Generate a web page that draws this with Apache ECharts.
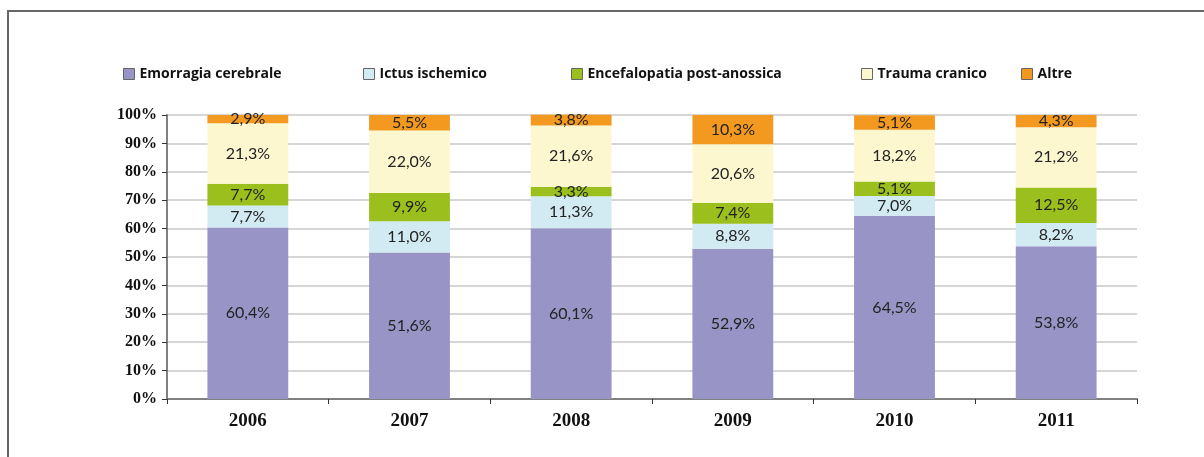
<!DOCTYPE html>
<html>
<head>
<meta charset="utf-8">
<script src="https://cdn.jsdelivr.net/npm/echarts@6/dist/echarts.min.js"></script>
<style>
html,body{margin:0;padding:0;background:#fff;}
#chart{width:1204px;height:457px;}
</style>
</head>
<body>
<div id="chart"></div>
<script>
var years = ['2006', '2007', '2008', '2009', '2010', '2011'];
var emorragia = [60.4, 51.6, 60.1, 52.9, 64.5, 53.8];
var ictus = [7.7, 11.0, 11.3, 8.8, 7.0, 8.2];
var encefalopatia = [7.7, 9.9, 3.3, 7.4, 5.1, 12.5];
var trauma = [21.3, 22.0, 21.6, 20.6, 18.2, 21.2];
var altre = [2.9, 5.5, 3.8, 10.3, 5.1, 4.3];
var yTicks = [0, 10, 20, 30, 40, 50, 60, 70, 80, 90, 100];

var names = ['Emorragia cerebrale', 'Ictus ischemico', 'Encefalopatia post-anossica', 'Trauma cranico', 'Altre'];
var colors = ['#9894c5', '#d2eaf2', '#9bbf1d', '#fdf7d0', '#f4991f'];
var values = [emorragia, ictus, encefalopatia, trauma, altre];
var legendLeft = [118, 358, 566, 856, 1016];

var myChart = echarts.init(document.getElementById('chart'));

var series = names.map(function (n, i) {
    return {
        name: n,
        type: 'bar',
        stack: 'tot',
        barWidth: '50%',
        clip: false,
        itemStyle: { color: colors[i] },
        label: {
            show: true,
            position: 'inside',
            color: '#222',
            fontFamily: 'Lato',
            fontSize: 16,
            formatter: function (p) {
                return p.value.toFixed(1).replace('.', ',') + '%';
            }
        },
        data: values[i]
    };
});

var legends = names.map(function (n, i) {
    return {
        data: [{ name: n, icon: 'rect' }],
        left: legendLeft[i],
        top: 62,
        itemWidth: 11,
        itemHeight: 11,
        itemGap: 8,
        itemStyle: { borderColor: '#666', borderWidth: 1 },
        textStyle: { fontFamily: 'Open Sans', fontWeight: 'bold', fontSize: 14, color: '#111' },
        selectedMode: false
    };
});

var option = {
    animation: false,
    backgroundColor: '#fff',
    graphic: [{
        type: 'polyline',
        shape: { points: [[8, 457], [8, 11], [1204, 11]] },
        style: { stroke: '#666', lineWidth: 2, fill: null }
    }],
    legend: legends,
    grid: { left: 167, right: 67, top: 115, bottom: 58 },
    xAxis: {
        type: 'category',
        data: years,
        axisLine: { lineStyle: { color: '#808080', width: 2 } },
        axisTick: { show: true, length: 5, lineStyle: { color: '#333' } },
        axisLabel: {
            margin: 13,
            fontFamily: 'Liberation Serif',
            fontWeight: 'bold',
            fontSize: 19,
            color: '#111'
        }
    },
    yAxis: {
        type: 'value',
        min: 0,
        max: 100,
        interval: 10,
        axisLine: { show: true, lineStyle: { color: '#808080', width: 2 } },
        axisTick: { show: true, length: 5, lineStyle: { color: '#333' } },
        splitLine: { lineStyle: { color: '#c8c8c8', width: 1.5 } },
        axisLabel: {
            margin: 10,
            fontFamily: 'Liberation Serif',
            fontWeight: 'bold',
            fontSize: 16,
            color: '#111',
            formatter: function (v) {
                return yTicks.indexOf(v) >= 0 ? v + '%' : '';
            }
        }
    },
    series: series
};
myChart.setOption(option);
</script>
</body>
</html>
